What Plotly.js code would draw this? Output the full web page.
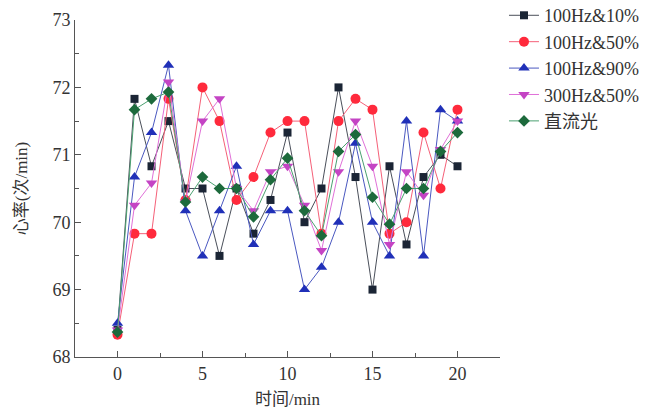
<!DOCTYPE html>
<html>
<head>
<meta charset="utf-8">
<script src="https://cdn.plot.ly/plotly-3.0.1.min.js"></script>
<style>html,body{margin:0;padding:0;background:#fff;}#chart{width:652px;height:413px;}</style>
</head>
<body>
<div id="chart"></div>
<script>
const time = [0,1,2,3,4,5,6,7,8,9,10,11,12,13,14,15,16,17,18,19,20];
const names = ["100Hz&10%", "100Hz&50%", "100Hz&90%", "300Hz&50%", "直流光"];
const s100Hz10 = [68.4,71.83,70.83,71.5,70.5,70.5,69.5,70.5,69.83,70.33,71.33,70.0,70.5,72.0,70.67,69.0,70.83,69.67,70.67,71.0,70.83];
const s100Hz50 = [68.33,69.83,69.83,71.83,70.33,72.0,71.5,70.33,70.67,71.33,71.5,71.5,69.83,71.5,71.83,71.67,69.83,70.0,71.33,70.5,71.67];
const s100Hz90 = [68.5,70.67,71.33,72.33,70.17,69.5,70.17,70.83,69.67,70.17,70.17,69.0,69.33,70.0,71.17,70.0,69.5,71.5,69.5,71.67,71.5];
const s300Hz50 = [68.4,70.25,70.58,72.08,70.3,71.5,71.83,70.5,70.17,70.75,70.83,70.25,69.58,70.75,71.5,70.83,69.67,70.75,70.4,71.08,71.5];
const sDC      = [68.37,71.67,71.83,71.93,70.3,70.67,70.5,70.5,70.08,70.63,70.95,70.17,69.8,71.05,71.3,70.37,69.97,70.5,70.5,71.05,71.33];

const series = [s100Hz10, s100Hz50, s100Hz90, s300Hz50, sDC];
const markerColors = ["#1b2535", "#ff2a3c", "#2030b8", "#c444c4", "#1d6a3c"];
const lineColors = ["#4a4f5a", "#f56078", "#4a58c0", "#e070d8", "#4aa070"];
const symbols = ["square", "circle", "triangle-up", "triangle-down", "diamond"];
const sizes = [8, 10, 10, 10, 9];

const traces = series.map((ys, i) => ({
  x: time, y: ys, name: names[i], type: "scatter", mode: "lines+markers",
  line: {color: lineColors[i], width: 1},
  marker: {color: markerColors[i], symbol: symbols[i], size: sizes[i], line: {width: 0}}
}));

const serif = "Times New Roman, Liberation Serif, Noto Sans CJK SC";
const layout = {
  width: 652, height: 413,
  margin: {l: 75, r: 152, t: 20, b: 56, autoexpand: false},
  paper_bgcolor: "#fff", plot_bgcolor: "#fff",
  font: {family: serif, color: "#333", size: 18},
  showlegend: true,
  legend: {x: 1.0094, xanchor: "left", y: 1.068, yanchor: "top", font: {family: serif, size: 18, color: "#333"}, bgcolor: "rgba(0,0,0,0)", tracegroupgap: 0},
  xaxis: {
    range: [-2.5, 22.5], tickmode: "array", tickvals: [0,5,10,15,20],
    ticks: "inside", ticklen: 6, tickcolor: "#555", tickwidth: 1,
    minor: {tickmode: "array", tickvals: [-2.5,2.5,7.5,12.5,17.5,22.5], ticks: "inside", ticklen: 4, tickcolor: "#555", showgrid: false},
    showline: true, linecolor: "#555", linewidth: 1, mirror: false,
    showgrid: false, zeroline: false,
    tickfont: {family: serif, size: 18, color: "#333"},
    title: {text: "时间/min", font: {family: serif, size: 17, color: "#333"}, standoff: 10}
  },
  yaxis: {
    range: [68, 73], tickmode: "array", tickvals: [68,69,70,71,72,73],
    ticks: "inside", ticklen: 6, tickcolor: "#555", tickwidth: 1,
    minor: {tickmode: "array", tickvals: [68.5,69.5,70.5,71.5,72.5], ticks: "inside", ticklen: 4, tickcolor: "#555", showgrid: false},
    showline: true, linecolor: "#555", linewidth: 1, mirror: false,
    showgrid: false, zeroline: false,
    tickfont: {family: serif, size: 18, color: "#333"},
    title: {text: "心率(次/min)", font: {family: serif, size: 17, color: "#333"}, standoff: 20}
  }
};

Plotly.newPlot("chart", traces, layout, {displayModeBar: false, staticPlot: true});
</script>
</body>
</html>
